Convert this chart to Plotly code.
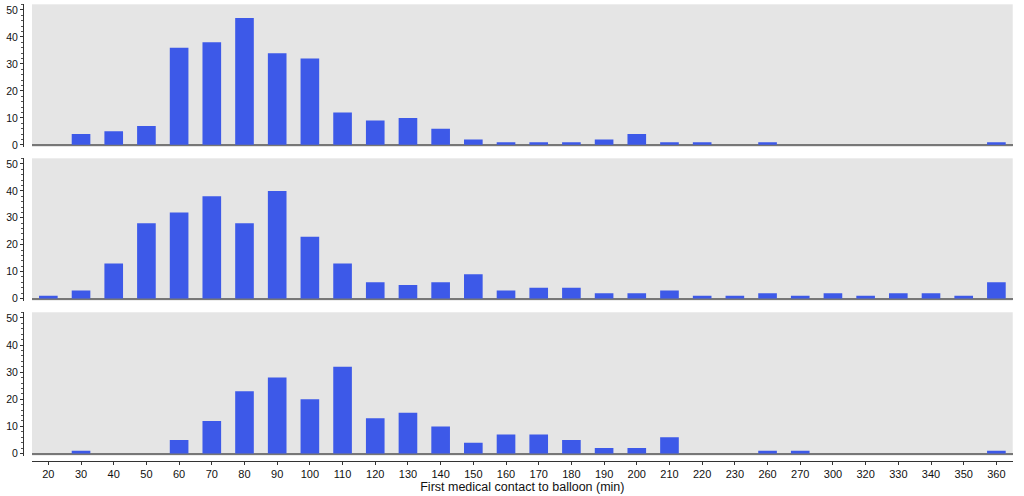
import plotly.graph_objects as go

# categories on the x axis (minutes)
minutes = ['20', '30', '40', '50', '60', '70', '80', '90', '100', '110',
           '120', '130', '140', '150', '160', '170', '180', '190', '200', '210',
           '220', '230', '260', '270', '300', '320', '330', '340', '350', '360']

# counts per panel, top to bottom
top_counts = [0, 4, 5, 7, 36, 38, 47, 34, 32, 12,
              9, 10, 6, 2, 1, 1, 1, 2, 4, 1,
              1, 0, 1, 0, 0, 0, 0, 0, 0, 1]
mid_counts = [1, 3, 13, 28, 32, 38, 28, 40, 23, 13,
              6, 5, 6, 9, 3, 4, 4, 2, 2, 3,
              1, 1, 2, 1, 2, 1, 2, 2, 1, 6]
bot_counts = [0, 1, 0, 0, 5, 12, 23, 28, 20, 32,
              13, 15, 10, 4, 7, 7, 5, 2, 2, 6,
              0, 0, 1, 1, 0, 0, 0, 0, 0, 1]

bar_color = 'rgb(61, 89, 232)'
font_family = 'Liberation Sans, Arial, sans-serif'

fig = go.Figure()
for counts, yax in zip([top_counts, mid_counts, bot_counts], ['y', 'y2', 'y3']):
    fig.add_trace(go.Bar(x=minutes, y=counts, xaxis='x', yaxis=yax,
                         marker={'color': bar_color, 'line': {'width': 0}},
                         showlegend=False))

yaxis_style = dict(
    range=[-0.8, 52.1],
    anchor='free', position=0.0225,
    automargin=False,
    tickvals=[0, 10, 20, 30, 40, 50],
    ticks='outside', ticklen=3, tickcolor='#333', tickwidth=1,
    minor=dict(dtick=2, ticks='outside', ticklen=2, tickcolor='#555'),
    showline=True, linecolor='#333', linewidth=1,
    showgrid=False,
    zeroline=True, zerolinecolor='#777', zerolinewidth=2,
    tickfont=dict(size=10.5, color='#111', family=font_family),
    fixedrange=True,
)

fig.update_layout(
    width=1024, height=496,
    margin=dict(l=0, r=0, t=0, b=0, autoexpand=False),
    paper_bgcolor='white',
    plot_bgcolor='#e5e5e5',
    bargap=0.43,
    xaxis=dict(
        type='category',
        domain=[0.03125, 0.989],
        range=[-0.5, 29.5],
        anchor='free', position=0.0706,
        automargin=False,
        showline=True, linecolor='#333', linewidth=1,
        ticks='outside', ticklen=3, tickcolor='#333',
        showgrid=False,
        tickfont=dict(size=11, color='#111', family=font_family),
        title=dict(text='First medical contact to balloon (min)',
                   font=dict(size=12.5, color='#111', family=font_family),
                   standoff=0),
        fixedrange=True,
    ),
    yaxis=dict(domain=[0.7036, 0.9913], **yaxis_style),
    yaxis2=dict(domain=[0.3938, 0.6808], **yaxis_style),
    yaxis3=dict(domain=[0.0813, 0.3704], **yaxis_style),
)

# page body has a default 8px margin; drop it so the figure fills the window
fig.write_html("out.html", config={'displayModeBar': False},
               post_script="document.body.style.margin='0px';")
